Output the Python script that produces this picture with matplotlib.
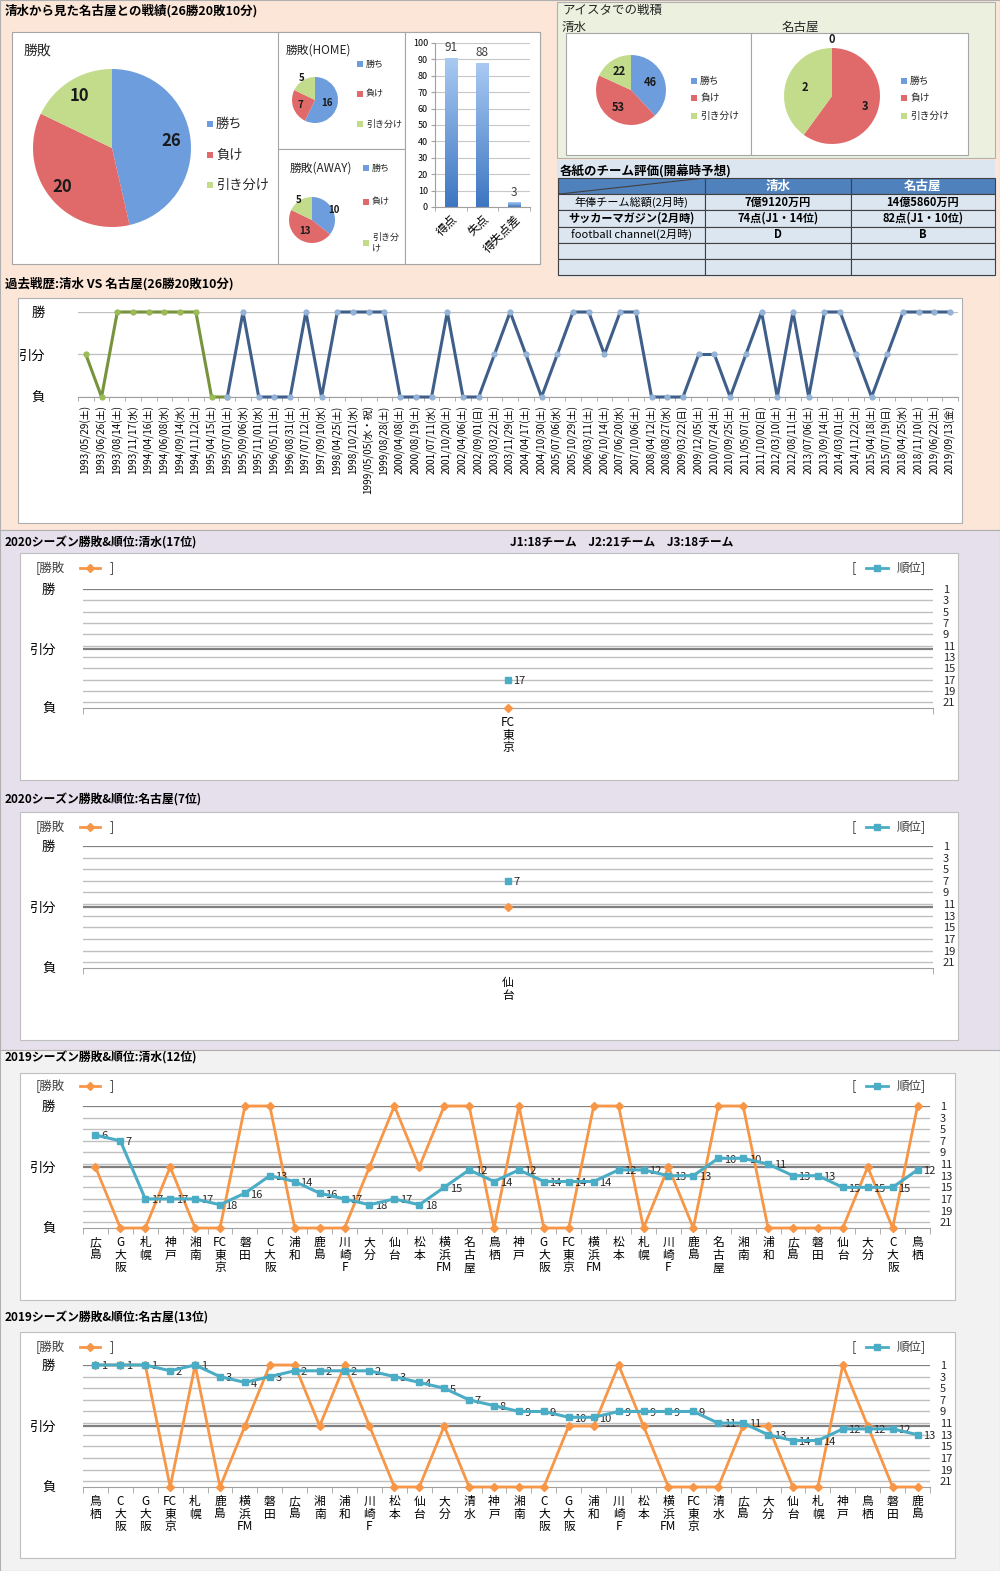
import numpy as np
import matplotlib
matplotlib.use("Agg")
import matplotlib.pyplot as plt
from matplotlib.patches import Rectangle
from matplotlib.lines import Line2D
from matplotlib.colors import LinearSegmentedColormap

plt.rcParams['font.family'] = ['Noto Sans CJK JP', 'DejaVu Sans']

W, H = 1000, 1571

# 通算の勝敗
result_labels = ['勝ち', '負け', '引き分け']
total_wdl = [26, 20, 10]
home_wdl = [16, 7, 5]
away_wdl = [10, 13, 5]
goal_cats = ['得点', '失点', '得失点差']
goal_vals = [91, 88, 3]

# アイスタでの戦積
aista_shimizu = [46, 53, 22]
aista_nagoya = [0, 3, 2]

# 各紙のチーム評価
table_header = ['', '清水', '名古屋']
table_items = ['年俸チーム総額(2月時)', 'サッカーマガジン(2月時)', 'football channel(2月時)', '', '']
table_shimizu = ['7億9120万円', '74点(J1・14位)', 'D', '', '']
table_nagoya = ['14億5860万円', '82点(J1・10位)', 'B', '', '']

# 過去戦歴 (2=勝 1=引分 0=負)
hist_dates = [
    '1993/05/29(土)', '1993/06/26(土)', '1993/08/14(土)', '1993/11/17(水)',
    '1994/04/16(土)', '1994/06/08(水)', '1994/09/14(水)', '1994/11/12(土)',
    '1995/04/15(土)', '1995/07/01(土)', '1995/09/06(水)', '1995/11/01(水)',
    '1996/05/11(土)', '1996/08/31(土)', '1997/07/12(土)', '1997/09/10(水)',
    '1998/04/25(土)', '1998/10/21(水)', '1999/05/05(水・祝)', '1999/08/28(土)',
    '2000/04/08(土)', '2000/08/19(土)', '2001/07/11(水)', '2001/10/20(土)',
    '2002/04/06(土)', '2002/09/01(日)', '2003/03/22(土)', '2003/11/29(土)',
    '2004/04/17(土)', '2004/10/30(土)', '2005/07/06(水)', '2005/10/29(土)',
    '2006/03/11(土)', '2006/10/14(土)', '2007/06/20(水)', '2007/10/06(土)',
    '2008/04/12(土)', '2008/08/27(水)', '2009/03/22(日)', '2009/12/05(土)',
    '2010/07/24(土)', '2010/09/25(土)', '2011/05/07(土)', '2011/10/02(日)',
    '2012/03/10(土)', '2012/08/11(土)', '2013/07/06(土)', '2013/09/14(土)',
    '2014/03/01(土)', '2014/11/22(土)', '2015/04/18(土)', '2015/07/19(日)',
    '2018/04/25(水)', '2018/11/10(土)', '2019/06/22(土)', '2019/09/13(金)']
hist_results = [1, 0, 2, 2, 2, 2, 2, 2, 0, 0,
                2, 0, 0, 0, 2, 0, 2, 2, 2, 2,
                0, 0, 0, 2, 0, 0, 1, 2, 1, 0,
                1, 2, 2, 1, 2, 2, 0, 0, 0, 1,
                1, 0, 1, 2, 0, 2, 0, 2, 2, 1,
                0, 1, 2, 2, 2, 2]
hist_split = 9  # 緑の系列の最後

# 2020シーズン
shimizu_2020_teams = ['FC東京']
shimizu_2020_res = [0]
shimizu_2020_rank = [17]
nagoya_2020_teams = ['仙台']
nagoya_2020_res = [1]
nagoya_2020_rank = [7]

# 2019シーズン
shimizu_2019_teams = ['広島', 'G大阪', '札幌', '神戸', '湘南', 'FC東京', '磐田', 'C大阪', '浦和', '鹿島',
                      '川崎F', '大分', '仙台', '松本', '横浜FM', '名古屋', '鳥栖', '神戸', 'G大阪', 'FC東京',
                      '横浜FM', '松本', '札幌', '川崎F', '鹿島', '名古屋', '湘南', '浦和', '広島', '磐田',
                      '仙台', '大分', 'C大阪', '鳥栖']
shimizu_2019_res = [1, 0, 0, 1, 0, 0, 2, 2, 0, 0, 0, 1, 2, 1, 2, 2, 0,
                    2, 0, 0, 2, 2, 0, 1, 0, 2, 2, 0, 0, 0, 0, 1, 0, 2]
shimizu_2019_rank = [6, 7, 17, 17, 17, 18, 16, 13, 14, 16, 17, 18, 17, 18, 15, 12, 14,
                     12, 14, 14, 14, 12, 12, 13, 13, 10, 10, 11, 13, 13, 15, 15, 15, 12]
nagoya_2019_teams = ['鳥栖', 'C大阪', 'G大阪', 'FC東京', '札幌', '鹿島', '横浜FM', '磐田', '広島', '湘南',
                     '浦和', '川崎F', '松本', '仙台', '大分', '清水', '神戸', '湘南', 'C大阪', 'G大阪',
                     '浦和', '川崎F', '松本', '横浜FM', 'FC東京', '清水', '広島', '大分', '仙台', '札幌',
                     '神戸', '鳥栖', '磐田', '鹿島']
nagoya_2019_res = [2, 2, 2, 0, 2, 0, 1, 2, 2, 1, 2, 1, 0, 0, 1, 0, 0,
                   0, 0, 1, 1, 2, 1, 0, 0, 0, 1, 1, 0, 0, 2, 1, 0, 0]
nagoya_2019_rank = [1, 1, 1, 2, 1, 3, 4, 3, 2, 2, 2, 2, 3, 4, 5, 7, 8,
                    9, 9, 10, 10, 9, 9, 9, 9, 11, 11, 13, 14, 14, 12, 12, 12, 13]

pie_colors = ['#6E9DDD', '#E06A6A', '#C2DC8C']
orange = '#F79646'
teal = '#4BACC6'

fig = plt.figure(figsize=(W / 100, H / 100), dpi=100)


def px_axes(x0, y0, x1, y1):
    return fig.add_axes([x0 / W, 1 - y1 / H, (x1 - x0) / W, (y1 - y0) / H])


def add_rect(x0, y0, x1, y1, fc, ec='none', lw=0.8):
    fig.add_artist(Rectangle((x0 / W, 1 - y1 / H), (x1 - x0) / W, (y1 - y0) / H,
                             transform=fig.transFigure, facecolor=fc, edgecolor=ec,
                             lw=lw, zorder=-1))


def fig_text(x, y, s, **kw):
    kw.setdefault('va', 'center')
    return fig.text(x / W, 1 - y / H, s, **kw)


def vertical_label(t):
    # 漢字は1文字ずつ縦に、英字はまとめて1行に
    parts = []
    for ch in t:
        if ch.isascii() and parts and parts[-1].isascii():
            parts[-1] += ch
        else:
            parts.append(ch)
    return '\n'.join(parts)


def draw_pie(cx, cy, r, vals, dists, fs):
    ax = px_axes(cx - r, cy - r, cx + r, cy + r)
    wedges, _ = ax.pie(vals, colors=pie_colors, startangle=90, counterclock=False,
                       wedgeprops=dict(linewidth=0))
    ax.set_xlim(-1, 1)
    ax.set_ylim(-1, 1)
    for w, v, d in zip(wedges, vals, dists):
        ang = np.deg2rad((w.theta1 + w.theta2) / 2)
        ax.text(d * np.cos(ang), d * np.sin(ang), str(v), ha='center', va='center',
                fontsize=fs, fontweight='bold', color='#1a1a1a', clip_on=False)
    return ax


def pie_legend(x, ys, labels, fs):
    for yy, lab, c in zip(ys, labels, pie_colors):
        add_rect(x, yy - 3, x + 6, yy + 3, c)
        fig_text(x + 9, yy, lab, fontsize=fs, color='#262626')


# ---------- 背景 ----------
add_rect(0, 0, 1000, 530, '#FCE6D8', '#B0B0B0')
add_rect(557, 2, 995, 158, '#EBF1DE', '#B0B0B0')
add_rect(557, 160, 995, 277, '#DCE6F1')
add_rect(0, 530, 1000, 1050, '#E5E0EC', '#B0B0B0')
add_rect(0, 1050, 1000, 1571, '#F2F2F2', '#B0B0B0')

# ---------- 上段左: 通算戦績 ----------
fig_text(5, 11, '清水から見た名古屋との戦績(26勝20敗10分)', fontsize=9, fontweight='bold')
add_rect(12, 32, 540, 264, 'white', '#A6A6A6')
add_rect(278, 32, 405, 149, 'white', '#A6A6A6')
add_rect(278, 149, 405, 264, 'white', '#A6A6A6')
add_rect(405, 32, 540, 264, 'white', '#A6A6A6')

fig_text(24, 52, '勝敗', fontsize=10, color='#262626')
draw_pie(112, 148, 79, total_wdl, [0.76, 0.8, 0.78], 12)
pie_legend(207, [124, 155, 185], result_labels, 9.5)

fig_text(286, 50, '勝敗(HOME)', fontsize=8.5, color='#262626')
draw_pie(315, 100, 23, home_wdl, [0.52, 0.68, 1.12], 7)
pie_legend(357, [64, 94, 124], result_labels, 6.5)

fig_text(290, 168, '勝敗(AWAY)', fontsize=8.5, color='#262626')
draw_pie(312, 220, 23, away_wdl, [1.05, 0.55, 1.05], 7)
pie_legend(363, [168, 202, 243], ['勝ち', '負け', '引き分\nけ'], 6.5)

# 得点・失点
axb = px_axes(435, 43, 530, 207)
xs = np.arange(len(goal_cats))
bars = axb.bar(xs, goal_vals, width=0.4, color='none', zorder=2)
cmap = LinearSegmentedColormap.from_list('bar', ['#3E76C2', '#A9CAF2'])
grad = np.linspace(0, 1, 100).reshape(-1, 1)
for b, v in zip(bars, goal_vals):
    x0, y0 = b.get_xy()
    im = axb.imshow(grad, extent=[x0, x0 + b.get_width(), y0, y0 + b.get_height()],
                    aspect='auto', cmap=cmap, origin='lower', zorder=2)
    im.set_clip_path(b)
    axb.text(b.get_x() + b.get_width() / 2, v + 2, str(v), ha='center', va='bottom',
             fontsize=8.5, color='#404040')
axb.set_xlim(-0.5, 2.5)
axb.set_ylim(0, 100)
axb.set_yticks(range(0, 101, 10))
axb.tick_params(axis='y', labelsize=6.5, length=3, color='#A0A0A0', pad=2)
axb.grid(axis='y', color='#C8C8C8', lw=0.8)
axb.set_axisbelow(True)
axb.set_xticks(xs)
axb.set_xticklabels(goal_cats, rotation=45, ha='right', rotation_mode='anchor', fontsize=8.5)
axb.set_xticks(np.arange(-0.5, 3, 1), minor=True)
axb.tick_params(axis='x', which='major', length=0, pad=4)
axb.tick_params(axis='x', which='minor', length=3, color='#A0A0A0')
for s in ['top', 'right']:
    axb.spines[s].set_visible(False)
for s in ['left', 'bottom']:
    axb.spines[s].set_color('#A0A0A0')

# ---------- 上段右: アイスタ ----------
fig_text(562, 10, 'アイスタでの戦積', fontsize=9, color='#262626')
fig_text(562, 27, '清水', fontsize=9, color='#262626')
fig_text(782, 27, '名古屋', fontsize=9, color='#262626')
add_rect(566, 33, 751, 155, 'white', '#A6A6A6')
add_rect(751, 33, 968, 155, 'white', '#A6A6A6')
draw_pie(631, 90, 35, aista_shimizu, [0.6, 0.62, 0.62], 8)
pie_legend(691, [81, 98, 116], result_labels, 7)
draw_pie(832, 96, 48, aista_nagoya, [1.18, 0.72, 0.6], 8)
pie_legend(901, [81, 98, 116], result_labels, 7)

# ---------- 各紙のチーム評価 ----------
fig_text(560, 171, '各紙のチーム評価(開幕時予想)', fontsize=9, fontweight='bold')
axt = px_axes(558, 178, 995, 275)
axt.axis('off')
cells = [table_header] + [[a, b, c] for a, b, c in zip(table_items, table_shimizu, table_nagoya)]
tbl = axt.table(cellText=cells, cellLoc='center', bbox=[0, 0, 1, 1],
                colWidths=[0.336, 0.334, 0.33])
tbl.auto_set_font_size(False)
tbl.set_fontsize(8)
for (r, c), cell in tbl.get_celld().items():
    cell.set_edgecolor('#404040')
    cell.set_linewidth(0.8)
    if r == 0:
        cell.set_facecolor('#4F81BD')
        cell.get_text().set_color('white')
        cell.get_text().set_fontweight('bold')
        cell.get_text().set_fontsize(9)
    else:
        cell.set_facecolor('#DCE6F1')
        if c > 0 or r == 2:
            cell.get_text().set_fontweight('bold')
axt.plot([0, 0.336], [5 / 6, 1], color='#404040', lw=0.8, transform=axt.transAxes)

# ---------- 過去戦歴 ----------
fig_text(5, 284, '過去戦歴:清水 VS 名古屋(26勝20敗10分)', fontsize=9, fontweight='bold')
add_rect(18, 298, 962, 523, 'white', '#B0B0B0')
axh = px_axes(78, 312, 958, 397)
hx = np.arange(len(hist_dates))
axh.plot(hx[:hist_split + 1], hist_results[:hist_split + 1], color='#77933C', lw=2.2,
         marker='o', ms=3.5, mfc='#9BBB59', mec='#9BBB59', clip_on=False, zorder=3)
axh.plot(hx[hist_split:], hist_results[hist_split:], color='#3F5F8A', lw=2.2,
         marker='o', ms=3.5, mfc='#95B3D7', mec='#95B3D7', clip_on=False, zorder=3)
axh.set_xlim(-0.5, len(hist_dates) - 0.5)
axh.set_ylim(0, 2)
axh.set_yticks([0, 1, 2])
axh.set_yticklabels(['負', '引分', '勝'], fontsize=9.5)
axh.tick_params(axis='y', length=0, pad=24)
axh.grid(axis='y', color='#BFBFBF', lw=0.9)
axh.set_xticks(hx)
axh.set_xticklabels(hist_dates, rotation=90, fontsize=7.2, va='top')
axh.set_xticks(np.arange(-0.5, len(hist_dates), 1), minor=True)
axh.tick_params(axis='x', which='major', length=0, pad=6)
axh.tick_params(axis='x', which='minor', length=3, color='#A0A0A0')
for s in ['top', 'right', 'left']:
    axh.spines[s].set_visible(False)
axh.spines['bottom'].set_color('#A0A0A0')


# ---------- シーズン勝敗&順位 ----------
def season_chart(box, plot, teams, results, ranks, legend_y):
    bx0, by0, bx1, by1 = box
    add_rect(bx0, by0, bx1, by1, 'white', '#BFBFBF')
    ax = px_axes(*plot)
    n = len(teams)
    xs = np.arange(n)
    ax.set_xlim(-0.5, n - 0.5)
    ax.set_ylim(0, 2)
    ax.set_yticks([0, 1, 2])
    ax.set_yticklabels(['負', '引分', '勝'], fontsize=9.5)
    ax.set_yticks([(22 - r) / 10.5 for r in range(1, 22, 2)], minor=True)
    ax.grid(axis='y', which='minor', color='#C0C0C0', lw=1.0)
    ax.grid(axis='y', which='major', color='#808080', lw=1.6)
    ax.get_ygridlines()[0].set_visible(False)
    ax.tick_params(axis='y', which='both', length=0, pad=20)
    ax.set_xticks(xs)
    ax.set_xticklabels([vertical_label(t) for t in teams], fontsize=8.5,
                       linespacing=0.95, va='top')
    ax.set_xticks(np.arange(-0.5, n, 1), minor=True)
    ax.tick_params(axis='x', which='major', length=0, pad=6)
    ax.tick_params(axis='x', which='minor', length=4, color='#A0A0A0')
    for s in ['top', 'right', 'left']:
        ax.spines[s].set_visible(False)
    ax.spines['bottom'].set_color('#A0A0A0')
    ax.plot(xs, results, color=orange, lw=2, marker='D', ms=4, clip_on=False, zorder=3)

    ax2 = ax.twinx()
    ax2.set_ylim(22, 1)
    ax2.set_yticks(range(1, 22, 2))
    ax2.tick_params(axis='y', length=0, labelsize=8, pad=7, labelcolor='#262626')
    for s in ax2.spines.values():
        s.set_visible(False)
    ax2.plot(xs, ranks, color=teal, lw=2.2, marker='s', ms=4.5, clip_on=False, zorder=4)
    for i, r in enumerate(ranks):
        ax2.annotate(str(r), (i, r), xytext=(4, -1), textcoords='offset points',
                     va='center', ha='left', fontsize=8, color='#262626')

    # 凡例
    ly = legend_y
    fig_text(36, ly, '[勝敗', fontsize=9, color='#404040')
    fig.add_artist(Line2D([80 / W, 100 / W], [1 - ly / H] * 2, color=orange, lw=2,
                          transform=fig.transFigure))
    fig.add_artist(Line2D([90 / W], [1 - ly / H], marker='D', ms=4, color=orange,
                          transform=fig.transFigure))
    fig_text(110, ly, ']', fontsize=9, color='#404040')
    fig_text(852, ly, '[', fontsize=9, color='#404040')
    fig.add_artist(Line2D([866 / W, 888 / W], [1 - ly / H] * 2, color=teal, lw=2,
                          transform=fig.transFigure))
    fig.add_artist(Line2D([877 / W], [1 - ly / H], marker='s', ms=4.5, color=teal,
                          transform=fig.transFigure))
    fig_text(897, ly, '順位]', fontsize=9, color='#404040')


fig_text(5, 543, '2020シーズン勝敗&順位:清水(17位)', fontsize=8.5, fontweight='bold')
fig_text(510, 543, 'J1:18チーム　J2:21チーム　J3:18チーム', fontsize=8.5, fontweight='bold')
season_chart((20, 553, 958, 780), (83, 589, 933, 708),
             shimizu_2020_teams, shimizu_2020_res, shimizu_2020_rank, 568)

fig_text(5, 800, '2020シーズン勝敗&順位:名古屋(7位)', fontsize=8.5, fontweight='bold')
season_chart((20, 812, 958, 1040), (83, 846, 933, 968),
             nagoya_2020_teams, nagoya_2020_res, nagoya_2020_rank, 827)

fig_text(5, 1058, '2019シーズン勝敗&順位:清水(12位)', fontsize=8.5, fontweight='bold')
season_chart((20, 1073, 955, 1300), (83, 1106, 930, 1228),
             shimizu_2019_teams, shimizu_2019_res, shimizu_2019_rank, 1086)

fig_text(5, 1318, '2019シーズン勝敗&順位:名古屋(13位)', fontsize=8.5, fontweight='bold')
season_chart((20, 1332, 955, 1558), (83, 1365, 930, 1487),
             nagoya_2019_teams, nagoya_2019_res, nagoya_2019_rank, 1347)

fig.savefig('out.png', dpi=100)
